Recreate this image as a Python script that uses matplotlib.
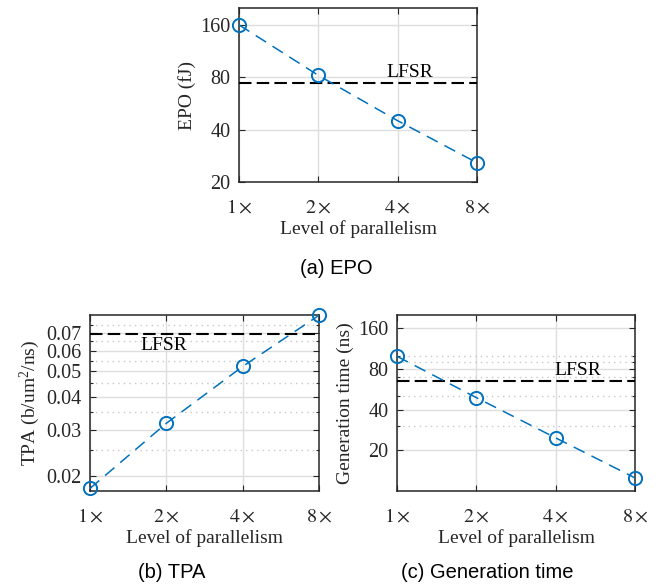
import numpy as np
import matplotlib
matplotlib.use('Agg')
import matplotlib.pyplot as plt
from matplotlib.ticker import FixedLocator, NullLocator, FixedFormatter

# data
levels = [1, 2, 4, 8]
levelLabels = ['$1\\times$', '$2\\times$', '$4\\times$', '$8\\times$']

epo = [160, 82, 45, 25.8]
epoLfsr = 74

tpa = [0.0179, 0.0317, 0.0522, 0.0818]
tpaLfsr = 0.0695

genTime = [99, 49, 24.7, 12.5]
genLfsr = 64.5

epoTicks = [20, 40, 80, 160]
tpaTicks = [0.02, 0.03, 0.04, 0.05, 0.06, 0.07]
tpaMinor = [0.025, 0.035, 0.045, 0.055, 0.065, 0.075]
genTicks = [20, 40, 80, 160]
genMinor = [30, 50, 70, 90, 100]

plt.rcParams['font.family'] = ['Liberation Serif', 'DejaVu Serif']
plt.rcParams['mathtext.fontset'] = 'custom'
plt.rcParams['mathtext.rm'] = 'Liberation Serif'
plt.rcParams['mathtext.it'] = 'Liberation Serif:italic'

darkGray = '#262626'
blue = '#0072BD'
tickFs = 14.5
labFs = 14

W, H = 667, 584
fig = plt.figure(figsize=(W / 100, H / 100), dpi=100)


def pxAxes(left, top, right, bottom):
    return fig.add_axes([left / W, 1 - bottom / H, (right - left) / W, (bottom - top) / H])


def styleAxes(ax, yTicks, yLim, yMinor, yLabel):
    ax.set_xscale('log', base=2)
    ax.set_yscale('log')
    ax.set_xlim(1, 8)
    ax.set_ylim(*yLim)
    ax.xaxis.set_major_locator(FixedLocator(levels))
    ax.set_xticklabels(levelLabels, math_fontfamily='stix')
    ax.xaxis.set_minor_locator(NullLocator())
    ax.yaxis.set_major_locator(FixedLocator(yTicks))
    ax.yaxis.set_major_formatter(FixedFormatter([('%g' % v) for v in yTicks]))
    if yMinor:
        ax.yaxis.set_minor_locator(FixedLocator(yMinor))
        ax.grid(True, which='minor', axis='y', color='#c8c8c8', linestyle=(0, (1, 3)), linewidth=1.0)
    else:
        ax.yaxis.set_minor_locator(NullLocator())
    ax.yaxis.set_minor_formatter(FixedFormatter([]))
    ax.grid(True, which='major', color='#dedede', linestyle='-', linewidth=1.0)
    ax.set_axisbelow(True)
    ax.tick_params(which='both', direction='in', top=True, right=True, colors=darkGray,
                   labelsize=tickFs, width=0.8)
    ax.tick_params(which='major', length=4)
    ax.tick_params(which='minor', length=2.5)
    ax.tick_params(axis='x', pad=12)
    ax.tick_params(axis='y', pad=6)
    for s in ax.spines.values():
        s.set_color(darkGray)
        s.set_linewidth(1.1)
    ax.set_xlabel('Level of parallelism', fontsize=labFs, color=darkGray, labelpad=2)
    ax.set_ylabel(yLabel, fontsize=labFs, color=darkGray, labelpad=3)


def drawSeries(ax, vals, lfsr, txtX, txtY):
    ax.axhline(lfsr, color='black', linestyle=(0, (6, 2.5)), linewidth=1.5, zorder=3)
    ax.plot(levels, vals, color=blue, linestyle=(0, (8, 5)), linewidth=1.1,
            marker='o', markersize=9.5, markerfacecolor='none', markeredgewidth=1.4,
            clip_on=False, zorder=4)
    ax.text(txtX, txtY, 'LFSR', fontsize=labFs, color='black', ha='center', va='center')


# (a) EPO
axA = pxAxes(239, 8, 477, 182)
styleAxes(axA, epoTicks, (20, 200), None, 'EPO (fJ)')
drawSeries(axA, epo, epoLfsr, 4.45, 85)

# (b) TPA
axB = pxAxes(90, 315, 319, 491)
styleAxes(axB, tpaTicks, (0.0175, 0.082), tpaMinor, 'TPA (b/um$^2$/ns)')
drawSeries(axB, tpa, tpaLfsr, 1.95, 0.0626)

# (c) Generation time
axC = pxAxes(397, 315, 635, 491)
styleAxes(axC, genTicks, (10, 200), genMinor, 'Generation time (ns)')
drawSeries(axC, genTime, genLfsr, 4.85, 78)

capFont = ['Liberation Sans', 'DejaVu Sans']
fig.text(336 / W, 1 - 268 / H, '(a) EPO', family=capFont, fontsize=14.5, ha='center', va='center')
fig.text(172 / W, 1 - 572 / H, '(b) TPA', family=capFont, fontsize=14.5, ha='center', va='center')
fig.text(487 / W, 1 - 572 / H, '(c) Generation time', family=capFont, fontsize=14.5, ha='center', va='center')

fig.savefig('out.png', dpi=100)
